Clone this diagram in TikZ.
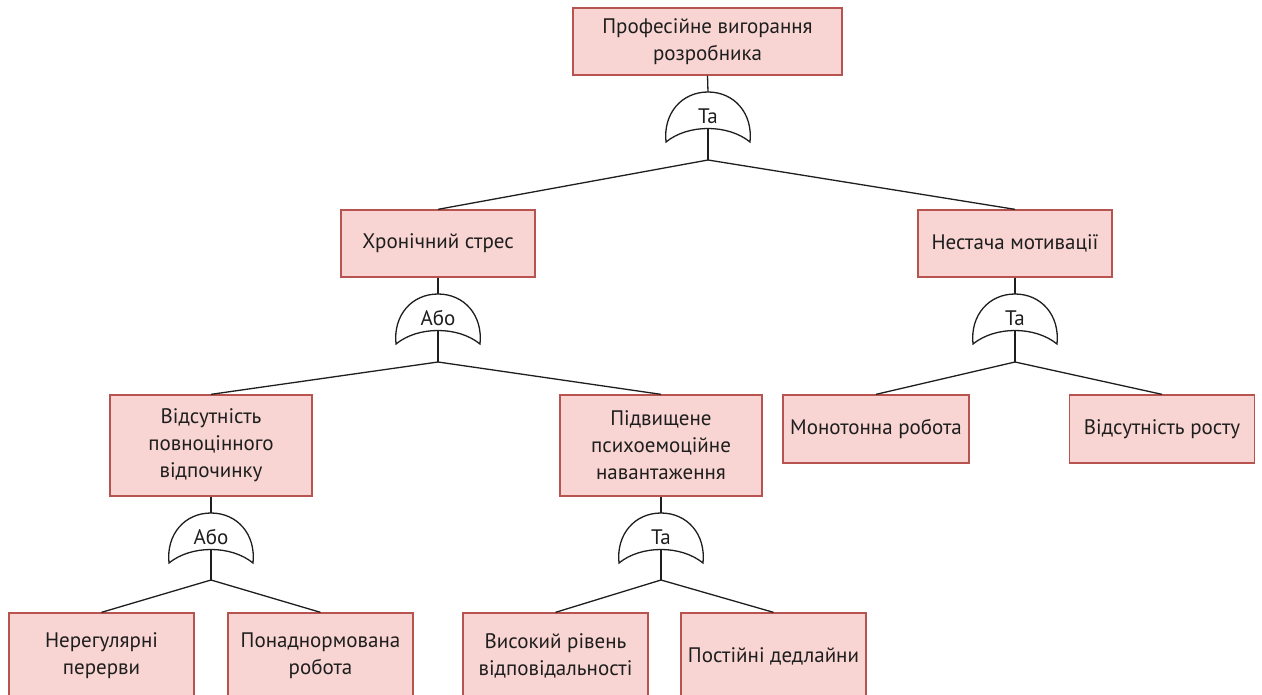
\documentclass[tikz,border=0pt]{standalone}
\usepackage{fontspec}
\setmainfont{PT Sans}
\definecolor{evfill}{RGB}{248,213,210}
\definecolor{evline}{RGB}{184,84,80}
\definecolor{ink}{RGB}{30,30,30}
\begin{document}
\begin{tikzpicture}[x=1pt,y=-1pt,
  every node/.style={font=\fontsize{21}{27}\selectfont, text=ink},
  event/.style={draw=evline, fill=evfill, line width=1.3pt,
    align=center, inner sep=2pt},
  gatetext/.style={minimum width=84, minimum height=50, inner sep=0},
  gateline/.style={draw=ink, line width=1.3pt, fill=white},
  link/.style={draw=ink, line width=1.3pt}]
\useasboundingbox (0,0) rectangle (1262,695);
\begin{scope}
\clip (0,0) rectangle (1262,695);

% events
\node[event, minimum width=269, minimum height=67] (top) at (707.5,41.5) {Професійне вигорання\\розробника};
\node[event, minimum width=194, minimum height=67] (stress) at (438,243.5) {Хронічний стрес};
\node[event, minimum width=194, minimum height=67] (motiv) at (1015,243.5) {Нестача мотивації};
\node[event, minimum width=202, minimum height=101] (rest) at (211,445.5) {Відсутність\\повноцінного\\відпочинку};
\node[event, minimum width=202, minimum height=101] (load) at (661,445.5) {Підвищене\\психоемоційне\\навантаження};
\node[event, minimum width=186, minimum height=68] (mono) at (876,429) {Монотонна робота};
\node[event, minimum width=185, minimum height=68] (growth) at (1162,429) {Відсутність росту};
\node[event, minimum width=185, minimum height=86] (breaks) at (101.5,656) {Нерегулярні\\перерви};
\node[event, minimum width=185, minimum height=86] (over) at (320.5,656) {Понаднормована\\робота};
\node[event, minimum width=185, minimum height=86] (resp) at (555.5,656) {Високий рівень\\відповідальності};
\node[event, minimum width=185, minimum height=86] (dead) at (773.5,656) {Постійні дедлайни};

% gate positions and junctions
\coordinate (g1) at (708,117);
\coordinate (g2) at (438,319);
\coordinate (g3) at (1015,319);
\coordinate (g4) at (211,538);
\coordinate (g5) at (661,538);
\coordinate (j1) at (708,160);
\coordinate (j2) at (438,362);
\coordinate (j3) at (1015,362);
\coordinate (j4) at (211,580);
\coordinate (j5) at (661,580);

% stems into gate tops
\draw[link] (top.south) -- ([shift={(0,-25)}]g1);
\draw[link] (stress.south) -- ([shift={(0,-25)}]g2);
\draw[link] (motiv.south) -- ([shift={(0,-25)}]g3);
\draw[link] (rest.south) -- ([shift={(0,-25)}]g4);
\draw[link] (load.south) -- ([shift={(0,-25)}]g5);

% gate bodies and stems to junctions
\foreach \g/\j in {g1/j1, g2/j2, g3/j3, g4/j4, g5/j5} {
  \begin{scope}[shift={(\g)}]
    \path[gateline] (-42,25) .. controls (-45,-4) and (-26,-25) .. (0,-25)
      .. controls (26,-25) and (45,-4) .. (42,25)
      .. controls (20,7) and (-20,7) .. cycle;
  \end{scope}
  \draw[link] ([shift={(0,12)}]\g) -- (\j);
}

% gate labels
\node[gatetext] (t1) at ([shift={(0,-1)}]g1) {Та};
\node[gatetext] (t2) at ([shift={(0,-1)}]g2) {Або};
\node[gatetext] (t3) at ([shift={(0,-1)}]g3) {Та};
\node[gatetext] (t4) at ([shift={(0,-1)}]g4) {Або};
\node[gatetext] (t5) at ([shift={(0,-1)}]g5) {Та};

% branches
\draw[link] (j1) -- (stress.north);
\draw[link] (j1) -- (motiv.north);
\draw[link] (j2) -- (rest.north);
\draw[link] (j2) -- (load.north);
\draw[link] (j3) -- (mono.north);
\draw[link] (j3) -- (growth.north);
\draw[link] (j4) -- (breaks.north);
\draw[link] (j4) -- (over.north);
\draw[link] (j5) -- (resp.north);
\draw[link] (j5) -- (dead.north);
\end{scope}
\end{tikzpicture}
\end{document}
